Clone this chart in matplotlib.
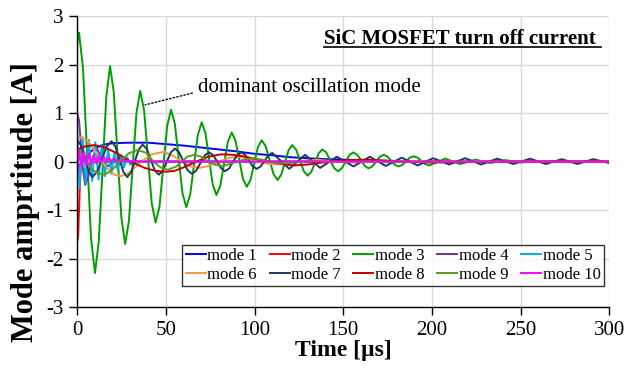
import matplotlib
matplotlib.use('Agg')
import matplotlib.pyplot as plt
from matplotlib.lines import Line2D

# Time [us] / amplitude [A] (extrema + a few in-between points)
mode1_t = [0, 3, 6, 10, 15, 20, 30, 40, 50, 60, 70, 80, 90, 100, 110, 120, 130, 140, 150, 170, 200, 300]
mode1_v = [-0.15, 0.0, 0.15, 0.28, 0.35, 0.38, 0.39, 0.39, 0.36, 0.33, 0.29, 0.25, 0.21, 0.16, 0.13, 0.09, 0.07, 0.05, 0.04, 0.02, 0.0, 0.0]

mode2_t = [0, 0.5, 1.0, 1.5, 2.2, 3.2, 4.5, 6, 8, 300]
mode2_v = [-1.65, -1.55, -1.0, -0.45, 0.05, 0.2, 0.0, -0.08, 0.0, 0.0]

mode3_t = [0, 0.5, 1.0, 3.25, 5.5, 7.75, 10.0, 12.1, 14.25, 16.4, 18.5, 20.6, 22.75, 24.9, 27.0,
           29.1, 31.25, 33.4, 35.5, 37.7, 39.85, 42.0, 44.2, 46.4, 48.55, 50.7, 52.9, 55.05, 57.2,
           59.35, 61.5, 63.7, 65.85, 68.0, 70.2, 72.3, 74.35, 76.4, 78.5, 80.65, 82.8, 84.95, 87.1,
           89.2, 91.35, 93.5, 95.6, 97.7, 99.8, 101.9, 104.0, 106.25, 108.5, 110.75, 113.0, 115.05,
           117.1, 119.15, 121.2, 123.4, 125.6, 127.8, 130.0, 132.05, 134.1, 136.15, 138.2, 140.4,
           142.6, 144.8, 147.0, 149.2, 151.4, 153.6, 155.8, 157.9, 160.05, 162.2, 164.3, 166.4,
           168.55, 170.7, 172.8, 174.9, 177.0, 179.1, 181.2, 183.3, 185.45, 187.6, 189.7, 191.9,
           194.1, 196.3, 198.5, 207.5, 216.0, 224.5, 233.0, 241.5, 250.0, 258.5, 267.0, 276.0, 300]
mode3_v = [2.4, 2.6, 2.66, 1.93, 0.18, -1.57, -2.30, -1.67, -0.17, 1.34, 1.97, 1.43, 0.13, -1.16, -1.70,
           -1.24, -0.12, 1.0, 1.46, 1.06, 0.10, -0.86, -1.26, -0.92, -0.10, 0.73, 1.07, 0.78, 0.07,
           -0.65, -0.94, -0.68, -0.07, 0.55, 0.81, 0.59, 0.06, -0.47, -0.69, -0.50, -0.05, 0.41, 0.60,
           0.44, 0.04, -0.36, -0.52, -0.38, -0.04, 0.30, 0.44, 0.32, 0.03, -0.26, -0.38, -0.27,
           -0.02, 0.23, 0.34, 0.25, 0.03, -0.20, -0.29, -0.21, -0.02, 0.17, 0.25, 0.19,
           0.03, -0.13, -0.20, -0.14, 0.0, 0.14, 0.19, 0.14, 0.03, -0.09, -0.14, -0.10,
           0.0, 0.10, 0.14, 0.105, 0.02, -0.065, -0.10, -0.07, 0.005, 0.08, 0.11, 0.08,
           0.015, -0.05, -0.08, 0.06, -0.05, 0.04, -0.03, 0.03, -0.02, 0.015, -0.01, 0.0, 0.0]

mode4_t = [0, 1.0, 2.0, 3.0, 4.5, 6.0, 8.0, 11.0, 14.0, 17.0, 21, 25, 30, 300]
mode4_v = [1.0, 0.85, 0.4, -0.1, -0.48, -0.35, 0.0, 0.28, 0.05, -0.1, 0.0, 0.05, 0.0, 0.0]

mode5_t = [0, 1.2, 3.0, 4.8, 6.6, 8.4, 10.2, 12.0, 13.8, 15.6, 17.4, 19.2, 21.0, 22.8, 24.6,
           26.4, 28.2, 30.0, 31.8, 33.6, 35.4, 38, 300]
mode5_v = [0.62, -0.55, 0.5, -0.45, 0.45, -0.4, 0.4, -0.37, 0.33, -0.3, 0.27, -0.25, 0.2, -0.18, 0.14,
           -0.12, 0.09, -0.07, 0.04, -0.03, 0.01, 0.0, 0.0]

mode6_t = [0, 2, 6, 10, 14, 18, 21, 24.5, 28, 32, 37, 42, 49, 54, 59, 64, 69, 74, 80, 86, 91, 96,
           102, 108, 113, 124, 135, 146, 157, 180, 200, 300]
mode6_v = [0.45, 0.5, 0.42, 0.22, 0.0, -0.18, -0.27, -0.3, -0.26, -0.14, 0.02, 0.15, 0.2, 0.12, 0.0,
           -0.1, -0.13, -0.09, 0.0, 0.08, 0.1, 0.07, 0.0, -0.05, -0.06, 0.0, 0.04, 0.0, -0.02, 0.01, 0.0, 0.0]

mode7_t = [0, 0.5, 2.5, 4.5, 6.5, 8.5, 11.2, 13.9, 16.6, 19.3, 21.5, 23.75, 26.0, 28.2, 30.4, 32.55,
           34.7, 36.9, 39.2, 41.45, 43.7, 46.0, 48.3, 50.55, 52.8, 55.1, 57.45, 59.8, 62.15, 64.5,
           67.0, 69.5, 72.0, 74.5, 76.7, 78.95, 81.2, 83.4, 85.7, 87.95, 90.2, 92.5, 94.7, 96.85,
           99.0, 101.2, 103.4, 105.6, 107.8, 110.0, 119.6, 128.5, 137.0, 146.4, 155.8, 165.0, 174.0,
           183.0, 192.0, 200.7, 209.8, 218.8, 227.8, 236.9, 246.0, 255.4, 264.3, 273.3, 282.2, 291.0, 300]
mode7_v = [0.39, 0.42, 0.31, 0.05, -0.21, -0.32, -0.21, 0.05, 0.31, 0.42, 0.31, 0.05, -0.21, -0.32, -0.22, 0.015,
           0.25, 0.35, 0.26, 0.04, -0.18, -0.27, -0.19, 0.0, 0.19, 0.27, 0.19, 0.01, -0.17, -0.25,
           -0.19, -0.03, 0.13, 0.19, 0.13, 0.0, -0.14, -0.20, -0.14, 0.0, 0.13, 0.19, 0.14, 0.02,
           -0.10, -0.15, -0.10, 0.015, 0.13, 0.18, -0.15, 0.14, -0.13, 0.10, -0.10, 0.10, -0.09,
           0.08, -0.08, 0.07, -0.06, 0.07, -0.06, 0.06, -0.05, 0.06, -0.05, 0.05, -0.05, 0.05, -0.03]

mode8_t = [0, 4, 9.5, 15, 22, 30, 38, 44, 50, 55, 60, 67, 74, 81, 88, 95, 102, 108, 115, 122,
           130, 138, 144, 153, 163, 173, 182, 200, 220, 240, 300]
mode8_v = [0.25, 0.31, 0.34, 0.3, 0.18, 0.0, -0.13, -0.19, -0.21, -0.19, -0.12, 0.0, 0.1, 0.15, 0.14,
           0.1, 0.04, 0.0, -0.05, -0.08, -0.06, -0.02, 0.0, 0.03, 0.04, 0.02, 0.0, -0.02, -0.01, 0.0, 0.0]

mode9_t = [0, 4, 8, 12, 15, 19, 24, 29, 34, 39, 43, 47, 51, 56, 59, 62, 66, 70, 74, 78, 82, 86, 90,
           95, 99, 104, 108, 114, 120, 130, 145, 160, 300]
mode9_v = [0.3, 0.08, -0.15, -0.25, -0.27, -0.2, 0.0, 0.17, 0.24, 0.18, 0.0, -0.12, -0.17, -0.1, 0.0,
           0.1, 0.14, 0.1, 0.0, -0.07, -0.09, -0.05, 0.0, 0.05, 0.07, 0.04, 0.0, -0.04, -0.03, 0.02,
           -0.01, 0.0, 0.0]

mode10_t = [0, 1.0, 2.4, 3.8, 5.2, 6.6, 8.0, 9.4, 10.8, 12.2, 13.6, 15.0, 16.4, 17.8, 19.2, 20.6,
            22, 24, 30, 40, 300]
mode10_v = [-0.3, 0.25, -0.1, 0.2, -0.08, 0.17, -0.06, 0.14, -0.04, 0.12, -0.02, 0.1, 0.0, 0.08, 0.01,
            0.06, 0.02, 0.03, 0.01, 0.0, 0.0]

modes = [
    ('mode 1', mode1_t, mode1_v, '#0000FF'),
    ('mode 2', mode2_t, mode2_v, '#FF0000'),
    ('mode 3', mode3_t, mode3_v, '#00A000'),
    ('mode 4', mode4_t, mode4_v, '#7030A0'),
    ('mode 5', mode5_t, mode5_v, '#00B0F0'),
    ('mode 6', mode6_t, mode6_v, '#F79646'),
    ('mode 7', mode7_t, mode7_v, '#1F3864'),
    ('mode 8', mode8_t, mode8_v, '#C00000'),
    ('mode 9', mode9_t, mode9_v, '#5B9B1A'),
    ('mode 10', mode10_t, mode10_v, '#FF00FF'),
]

plt.rcParams['font.family'] = ['Liberation Serif', 'DejaVu Serif']
plt.rcParams['axes.unicode_minus'] = False

fig = plt.figure(figsize=(6.28, 3.76), dpi=100)
ax = fig.add_axes([0.123, 0.1835, 0.847, 0.7735])

handles = []
for name, t, v, c in modes:
    h, = ax.plot(t, v, color=c, linewidth=1.4, label=name)
    handles.append(h)

ax.set_xlim(0, 300)
ax.set_ylim(-3, 3)
ax.set_xticks(range(0, 301, 50))
ax.set_yticks(range(-3, 4))
ax.grid(True, color='#D9D9D9', linewidth=1.0)
ax.set_axisbelow(True)
for s in ['top', 'right']:
    ax.spines[s].set_visible(False)
for s in ['left', 'bottom']:
    ax.spines[s].set_color('black')
    ax.spines[s].set_linewidth(1.0)
ax.tick_params(axis='both', direction='out', length=6, width=1.0, labelsize=15, pad=4)

ax.set_xlabel('Time [µs]', fontsize=17, fontweight='bold', labelpad=0)
ax.set_ylabel('Mode amprtitude [A]', fontsize=22, fontweight='bold')
ax.yaxis.set_label_coords(-0.07, 0.36)

# legend fills row by row like the original: 1-5 on top, 6-10 below
order = [0, 5, 1, 6, 2, 7, 3, 8, 4, 9]
leg = ax.legend([handles[i] for i in order], [modes[i][0] for i in order],
                ncol=5, loc='lower right', bbox_to_anchor=(0.99, 0.072), borderaxespad=0,
                fontsize=12, frameon=True, fancybox=False, edgecolor='black',
                handlelength=1.2, handletextpad=0.1, columnspacing=0.75, labelspacing=0.15,
                borderpad=0.2)
leg.get_frame().set_linewidth(1.0)

ttl = ax.text(0.984, 0.905, 'SiC MOSFET turn off current ', transform=ax.transAxes,
              fontsize=15, fontweight='bold', ha='right', va='baseline')

ax.annotate('dominant oscillation mode', xy=(38.3, 1.17), xytext=(68, 1.52),
            fontsize=15, va='center', ha='left',
            arrowprops=dict(arrowstyle='-', linestyle=':', color='black', linewidth=1.0,
                            relpos=(0, 0.3), shrinkA=2, shrinkB=0))

# underline the title
fig.canvas.draw()
bb = ttl.get_window_extent().transformed(fig.transFigure.inverted())
fig.add_artist(Line2D([bb.x0, bb.x1], [bb.y0 + 0.004, bb.y0 + 0.004], color='black', linewidth=1.2,
                      transform=fig.transFigure))

fig.savefig('out.png', dpi=100)
